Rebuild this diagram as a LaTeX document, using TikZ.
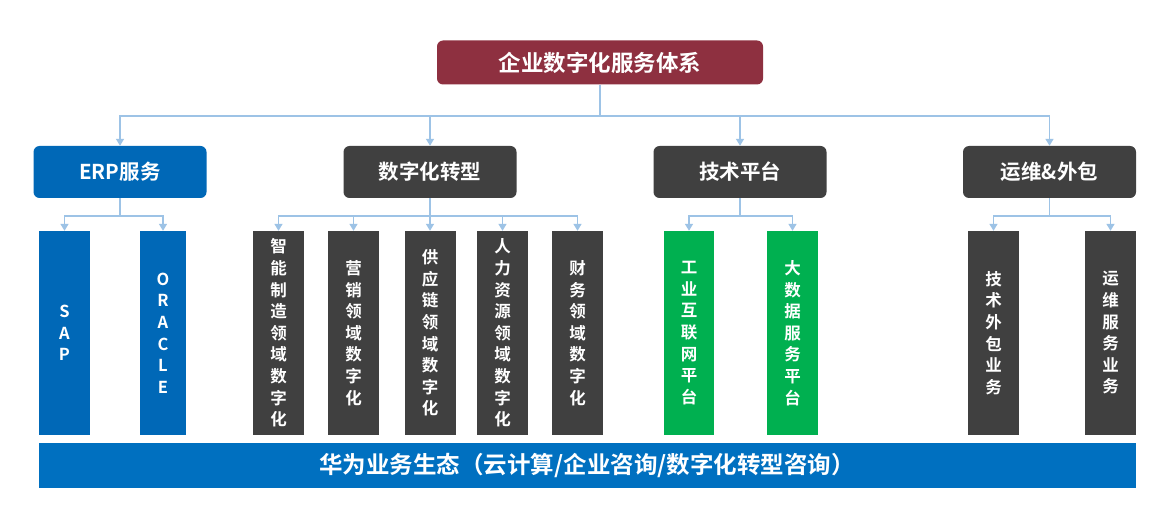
\documentclass[tikz,border=0pt]{standalone}
\usepackage{fontspec}
\newfontfamily\cjk{Noto Sans CJK SC}[BoldFont={Noto Sans CJK SC Bold}]
\usetikzlibrary{arrows.meta}
\definecolor{maroonc}{HTML}{8E3040}
\definecolor{bluec}{HTML}{0068B7}
\definecolor{barc}{HTML}{0070C0}
\definecolor{grayc}{HTML}{404040}
\definecolor{greenc}{HTML}{00B050}
\definecolor{connc}{HTML}{9DC3E6}
\begin{document}
\begin{tikzpicture}[x=1pt,y=-1pt,
  box/.style={rounded corners=6pt, text=white, inner sep=0pt, minimum width=173pt, minimum height=52pt,
    font=\cjk\bfseries\fontsize{20.5}{24}\selectfont},
  col/.style={inner sep=0pt, text=white, minimum width=51pt, minimum height=204pt, align=center,
    font=\cjk\bfseries\fontsize{16.5}{21.6}\selectfont},
  conn/.style={draw=connc, line width=1.4pt},
  arr/.style={conn, -{Triangle[width=8pt,length=7pt]}}]
\useasboundingbox (0,0) rectangle (1169,521);
\fill[white] (0,0) rectangle (1169,521);
% top
\node[box, fill=maroonc, minimum width=326pt, minimum height=44pt,
  font=\cjk\bfseries\fontsize{22.5}{26}\selectfont] (top) at (600,62.5) {企业数字化服务体系};
% level 2
\node[box, fill=bluec] (erp) at (120,172) {ERP服务};
\node[box, fill=grayc] (dig) at (430,172) {数字化转型};
\node[box, fill=grayc] (tech) at (740,172) {技术平台};
\node[box, fill=grayc] (ops) at (1049.5,172) {运维\&外包};
% columns
\node[col, fill=bluec] (sap) at (64.5,333) {S\\A\\P};
\node[col, fill=bluec, minimum width=46pt] (oracle) at (163,333) {O\\R\\A\\C\\L\\E};
\node[col, fill=grayc] (d1) at (278.5,333) {智\\能\\制\\造\\领\\域\\数\\字\\化};
\node[col, fill=grayc] (d2) at (353.5,333) {营\\销\\领\\域\\数\\字\\化};
\node[col, fill=grayc] (d3) at (430,333) {供\\应\\链\\领\\域\\数\\字\\化};
\node[col, fill=grayc] (d4) at (502.5,333) {人\\力\\资\\源\\领\\域\\数\\字\\化};
\node[col, fill=grayc] (d5) at (577.5,333) {财\\务\\领\\域\\数\\字\\化};
\node[col, fill=greenc, minimum width=50pt] (g1) at (689,333) {工\\业\\互\\联\\网\\平\\台};
\node[col, fill=greenc] (g2) at (792.5,333) {大\\数\\据\\服\\务\\平\\台};
\node[col, fill=grayc] (o1) at (993.5,333) {技\\术\\外\\包\\业\\务};
\node[col, fill=grayc] (o2) at (1110.5,333) {运\\维\\服\\务\\业\\务};
% bottom bar
\node[fill=barc, text=white, inner sep=0pt, minimum width=1097pt, minimum height=45pt] (bar) at (587.5,465.5) {};
\node[text=white, inner sep=0pt, font=\cjk\bfseries\fontsize{23.5}{26}\selectfont] (bartext) at (587,466) {华为业务生态（云计算/企业咨询/数字化转型咨询）};
% connectors
\coordinate (tb) at (600,116);
\draw[conn] (top.south) -- (tb);
\foreach \c in {erp,dig,tech,ops} \draw[arr] (tb) -| (\c.north);
\coordinate (eb) at (120,216);
\draw[conn] (erp.south) -- (eb);
\foreach \c in {sap,oracle} \draw[arr] (eb) -| (\c.north);
\coordinate (db) at (430,216);
\draw[conn] (dig.south) -- (db);
\foreach \c in {d1,d2,d3,d4,d5} \draw[arr] (db) -| (\c.north);
\coordinate (gb) at (740,216);
\draw[conn] (tech.south) -- (gb);
\foreach \c in {g1,g2} \draw[arr] (gb) -| (\c.north);
\coordinate (ob) at (1049.5,216);
\draw[conn] (ops.south) -- (ob);
\foreach \c in {o1,o2} \draw[arr] (ob) -| (\c.north);
\end{tikzpicture}
\end{document}
